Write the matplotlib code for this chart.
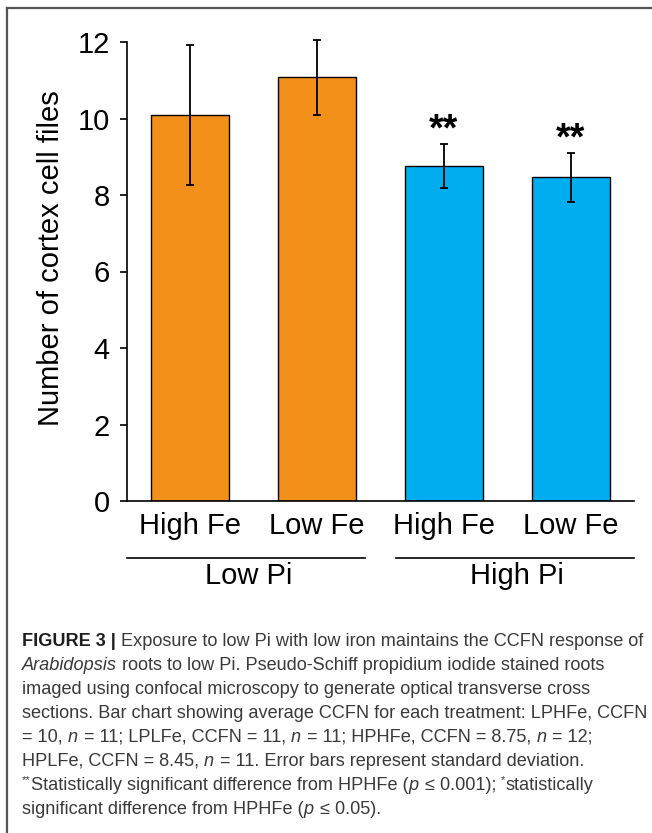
import numpy as np
import matplotlib
matplotlib.use("Agg")
import matplotlib.pyplot as plt
import matplotlib.transforms as mtransforms
from matplotlib.lines import Line2D

plt.rcParams['font.family'] = ['Liberation Sans', 'DejaVu Sans']

# ---------------- data ----------------
bar_labels = ["High Fe", "Low Fe", "High Fe", "Low Fe"]
means = [10.1, 11.08, 8.75, 8.46]
errors = [1.83, 0.98, 0.58, 0.64]
signif = ["", "", "**", "**"]
bar_colors = ["#F39019", "#F39019", "#00ADEE", "#00ADEE"]
group_names = ["Low Pi", "High Pi"]
ylabel = "Number of cortex cell files"
yticks = [0, 2, 4, 6, 8, 10, 12]

caption_lines = [
    [("FIGURE 3 | ", "b"), ("Exposure to low Pi with low iron maintains the CCFN response of", "n")],
    [("Arabidopsis", "i"), (" roots to low Pi. Pseudo-Schiff propidium iodide stained roots", "n")],
    [("imaged using confocal microscopy to generate optical transverse cross", "n")],
    [("sections. Bar chart showing average CCFN for each treatment: LPHFe, CCFN", "n")],
    [("= 10, ", "n"), ("n", "i"), (" = 11; LPLFe, CCFN = 11, ", "n"), ("n", "i"),
     (" = 11; HPHFe, CCFN = 8.75, ", "n"), ("n", "i"), (" = 12;", "n")],
    [("HPLFe, CCFN = 8.45, ", "n"), ("n", "i"), (" = 11. Error bars represent standard deviation.", "n")],
    [("**", "s"), ("Statistically significant difference from HPHFe (", "n"), ("p", "i"),
     (" \u2264 0.001); ", "n"), ("*", "s"), ("statistically", "n")],
    [("significant difference from HPHFe (", "n"), ("p", "i"), (" \u2264 0.05).", "n")],
]

# ---------------- layout ----------------
W, H = 652, 833
fig = plt.figure(figsize=(W / 100, H / 100), dpi=100)
fig.patch.set_facecolor("white")

# frame lines (top & left)
frame_col = "#555555"
fig.add_artist(Line2D([7 / W, 1.0], [1 - 8 / H, 1 - 8 / H], transform=fig.transFigure,
                      color=frame_col, lw=1.6))
fig.add_artist(Line2D([7 / W, 7 / W], [0.0, 1 - 8 / H], transform=fig.transFigure,
                      color=frame_col, lw=1.6))

ax_l, ax_r, ax_b, ax_t = 127, 634, 501, 42
ax = fig.add_axes([ax_l / W, (H - ax_b) / H, (ax_r - ax_l) / W, (ax_b - ax_t) / H])

x = np.arange(len(means))
bc = ax.bar(x, means, width=0.615, color=bar_colors, edgecolor="black", linewidth=1.0,
            yerr=errors, capsize=3.2,
            error_kw=dict(elinewidth=1.3, capthick=1.3, ecolor="black"), zorder=2)
eb = bc.errorbar
if eb is not None:
    for part in eb.lines:
        if part is None:
            continue
        if isinstance(part, (tuple, list)):
            for p in part:
                p.set_clip_on(False)
        else:
            part.set_clip_on(False)

for xi, m, e, s in zip(x, means, errors, signif):
    if s:
        ax.text(xi, m + e + 0.1, s, ha="center", va="baseline", fontsize=27,
                fontweight="bold", color="black")

ax.set_xlim(-0.5, 3.5)
ax.set_ylim(0, 12)
ax.set_yticks(yticks)
ax.set_yticklabels([str(t) for t in yticks])
ax.set_xticks(x)
ax.set_xticklabels(bar_labels)
for sp in ["top", "right"]:
    ax.spines[sp].set_visible(False)
for sp in ["left", "bottom"]:
    ax.spines[sp].set_linewidth(1.2)
ax.tick_params(axis="y", direction="out", length=5, width=1.2, pad=7.5, labelsize=21)
ax.tick_params(axis="x", length=0, pad=8, labelsize=21)

fig.text(51 / W, 1 - 258 / H, ylabel, rotation=90, ha="center", va="center", fontsize=21)

# group lines & labels
trans = mtransforms.blended_transform_factory(ax.transData, ax.transAxes)
group_line_x = [(-0.5, 1.38), (1.62, 3.5)]
line_y = (ax_b - 558) / (ax_b - ax_t)
text_y = (ax_b - 584) / (ax_b - ax_t)
for name, (x0, x1) in zip(group_names, group_line_x):
    ax.plot([x0, x1], [line_y, line_y], transform=trans, color="black", lw=1.2, clip_on=False)
    ax.text((x0 + x1) / 2 + 0.02, text_y, name, transform=trans, ha="center", va="baseline",
            fontsize=21, clip_on=False)

# ---------------- caption ----------------
renderer = fig.canvas.get_renderer()
cap_col = "#3a3a3a"
bold_col = "#1e1e1e"


def props(style, fs):
    d = dict(fontsize=fs, color=cap_col)
    if style == "b":
        d.update(fontweight="bold", color=bold_col)
    elif style == "i":
        d.update(style="italic")
    elif style == "s":
        d.update(fontsize=fs * 0.62)
    return d


def width(s, style, fs):
    t1 = fig.text(0, 0, "|" + s + "|", **props(style, fs))
    t2 = fig.text(0, 0, "||", **props(style, fs))
    w = t1.get_window_extent(renderer).width - t2.get_window_extent(renderer).width
    t1.remove()
    t2.remove()
    return w


base = 10.0
w1 = sum(width(s, st, base) for s, st in caption_lines[0])
fs = base * 623.0 / w1

x_start = 22
baseline0 = 646
spacing = 24
for i, runs in enumerate(caption_lines):
    xp = x_start
    yb = baseline0 + spacing * i
    for s, st in runs:
        yy = yb - (fs * 0.5 if st == "s" else 0)
        fig.text(xp / W, 1 - yy / H, s, ha="left", va="baseline", **props(st, fs))
        xp += width(s, st, fs)
        if st == "i" and len(s) == 1:
            xp += 1.0

fig.savefig("out.png", dpi=100)
